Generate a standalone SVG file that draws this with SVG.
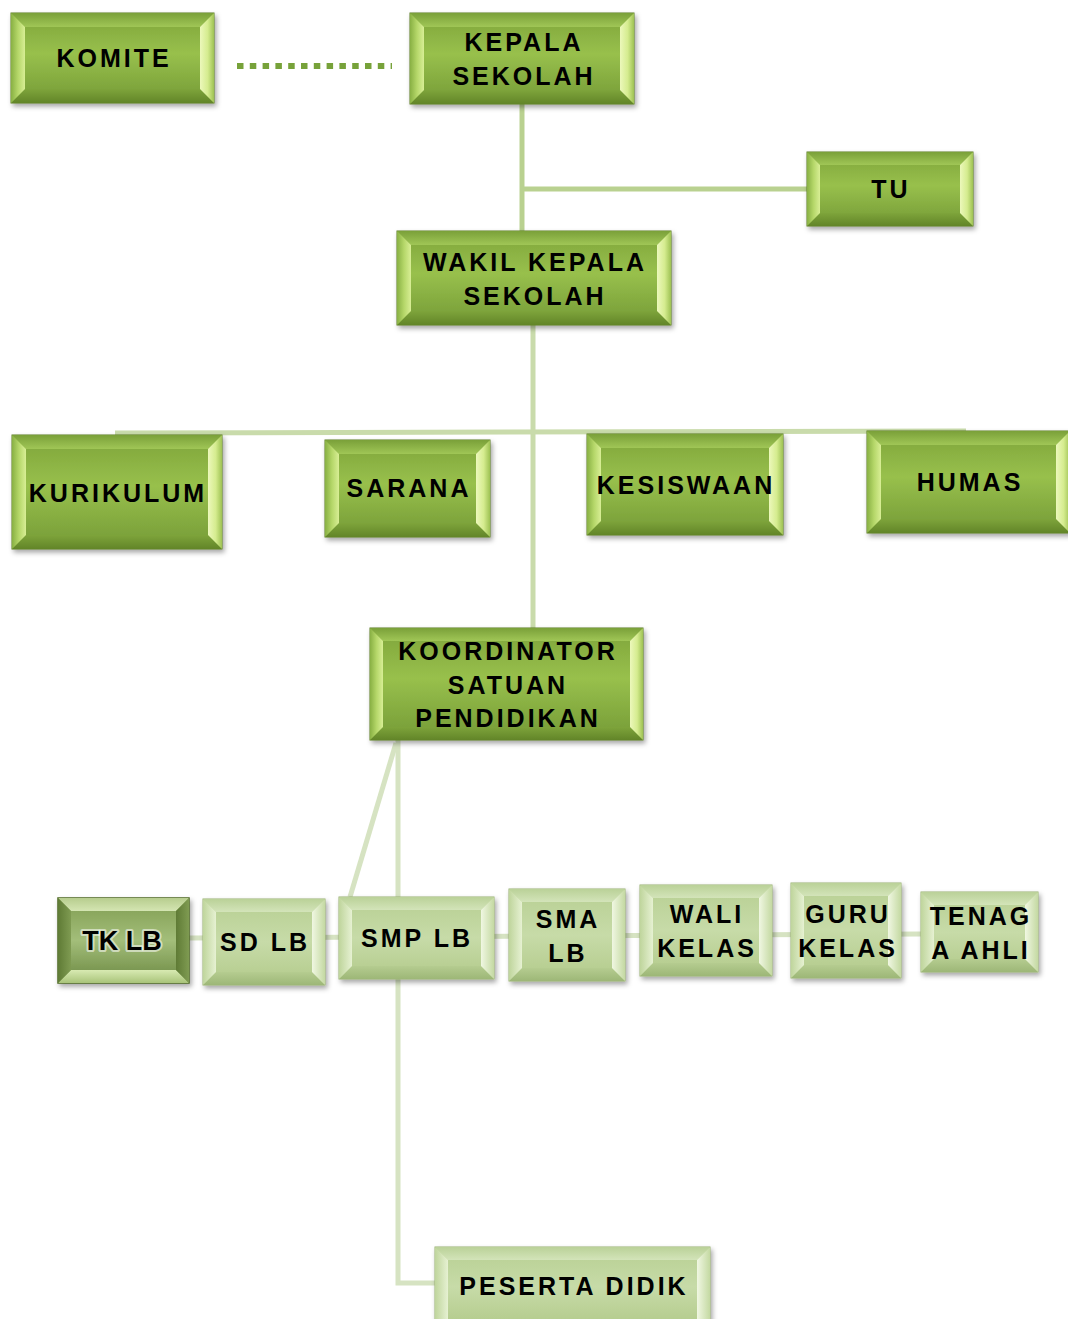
<svg xmlns="http://www.w3.org/2000/svg" width="1068" height="1319" viewBox="0 0 1068 1319">
<defs>
<filter id="sh" x="-10%" y="-10%" width="125%" height="135%"><feDropShadow dx="2" dy="3" stdDeviation="2.5" flood-color="#000" flood-opacity="0.35"/></filter>
<linearGradient id="gM" x1="0" y1="0" x2="0" y2="1"><stop offset="0" stop-color="#7ea43a"/><stop offset="0.45" stop-color="#98c04c"/><stop offset="1" stop-color="#749a36"/></linearGradient>
<linearGradient id="gL" x1="0" y1="0" x2="1" y2="0"><stop offset="0" stop-color="#88b043"/><stop offset="0.5" stop-color="#b5d769"/><stop offset="1" stop-color="#d8ee95"/></linearGradient>
<linearGradient id="gR" x1="1" y1="0" x2="0" y2="0"><stop offset="0" stop-color="#9ec253"/><stop offset="0.45" stop-color="#d5ec8f"/><stop offset="1" stop-color="#ecf8bb"/></linearGradient>
<linearGradient id="gT" x1="0" y1="0" x2="0" y2="1"><stop offset="0" stop-color="#7aa039"/><stop offset="1" stop-color="#a0c656"/></linearGradient>
<linearGradient id="gB" x1="0" y1="1" x2="0" y2="0"><stop offset="0" stop-color="#628528"/><stop offset="1" stop-color="#7ea43b"/></linearGradient>
<linearGradient id="pM" x1="0" y1="0" x2="0" y2="1"><stop offset="0" stop-color="#b7cf92"/><stop offset="0.5" stop-color="#c7dba8"/><stop offset="1" stop-color="#b2ca8a"/></linearGradient>
<linearGradient id="pL" x1="0" y1="0" x2="1" y2="0"><stop offset="0" stop-color="#bfd59c"/><stop offset="1" stop-color="#e6f1d2"/></linearGradient>
<linearGradient id="pR" x1="1" y1="0" x2="0" y2="0"><stop offset="0" stop-color="#c4d9a2"/><stop offset="1" stop-color="#f0f7e2"/></linearGradient>
<linearGradient id="pT" x1="0" y1="0" x2="0" y2="1"><stop offset="0" stop-color="#bad198"/><stop offset="1" stop-color="#d3e4b9"/></linearGradient>
<linearGradient id="pB" x1="0" y1="1" x2="0" y2="0"><stop offset="0" stop-color="#9db777"/><stop offset="1" stop-color="#b5cc90"/></linearGradient>
<linearGradient id="kM" x1="0" y1="0" x2="0" y2="1"><stop offset="0" stop-color="#7f9c50"/><stop offset="0.5" stop-color="#a3be7a"/><stop offset="1" stop-color="#6a8740"/></linearGradient>
<linearGradient id="kT" x1="0" y1="0" x2="0" y2="1"><stop offset="0" stop-color="#b7cd8e"/><stop offset="1" stop-color="#d4e5b2"/></linearGradient>
<linearGradient id="kB" x1="0" y1="1" x2="0" y2="0"><stop offset="0" stop-color="#a9c47a"/><stop offset="1" stop-color="#d8eab2"/></linearGradient>
<linearGradient id="kS" x1="0" y1="0" x2="1" y2="0"><stop offset="0" stop-color="#5f7b35"/><stop offset="1" stop-color="#7f9b52"/></linearGradient>
</defs>
<style>
.m{fill:url(#gM);stroke:#5b7b27;stroke-width:1}
.l{fill:url(#gL)}.r{fill:url(#gR)}.t{fill:url(#gT)}.b{fill:url(#gB)}
.pm{fill:url(#pM);stroke:#97af72;stroke-width:1}
.pl{fill:url(#pL)}.pr{fill:url(#pR)}.pt{fill:url(#pT)}.pb{fill:url(#pB)}
.km{fill:url(#kM);stroke:#4d6824;stroke-width:1.5}
.kt{fill:url(#kT)}.kb{fill:url(#kB)}.ks{fill:url(#kS)}
text{font-family:"Liberation Sans",Arial,sans-serif;font-weight:bold;font-size:25px;letter-spacing:3px;fill:#000;text-anchor:middle}
.glow{letter-spacing:0px;font-size:27px;stroke:#ffffff;stroke-width:4;stroke-opacity:0.55;paint-order:stroke;stroke-linejoin:round}
.c1{stroke:#b9d190;stroke-width:5;fill:none}
.c2{stroke:#c9dbab;stroke-width:5;fill:none}
.c3{stroke:#d6e3c2;stroke-width:5;fill:none}
</style>
<g id="connectors">
<line x1="237" y1="66" x2="392" y2="66" stroke="#77a23a" stroke-width="6" stroke-dasharray="6.5 6.3"/>
<line class="c1" x1="522" y1="104" x2="522" y2="232"/>
<line class="c1" x1="522" y1="189" x2="808" y2="189"/>
<line class="c2" x1="533" y1="325" x2="533" y2="628"/>
<line class="c2" x1="115" y1="433" x2="966" y2="431"/>
<line class="c3" x1="189" y1="938" x2="921" y2="934"/>
<line class="c3" x1="396" y1="743" x2="350" y2="897"/>
<polyline class="c3" points="398,740 398,1283 437,1283"/>
</g>
<g id="komite">
<rect class="m" x="11" y="13" width="203" height="90" filter="url(#sh)"/>
<polygon class="t" points="11,13 214,13 200,27 25,27"/><polygon class="b" points="11,103 214,103 200,89 25,89"/>
<polygon class="l" points="11,13 25,27 25,89 11,103"/><polygon class="r" points="214,13 200,27 200,89 214,103"/>
<text x="114" y="67">KOMITE</text>
</g>
<g id="kepala-sekolah">
<rect class="m" x="410" y="13" width="224" height="91" filter="url(#sh)"/>
<polygon class="t" points="410,13 634,13 620,27 424,27"/><polygon class="b" points="410,104 634,104 620,90 424,90"/>
<polygon class="l" points="410,13 424,27 424,90 410,104"/><polygon class="r" points="634,13 620,27 620,90 634,104"/>
<text x="524" y="51">KEPALA</text><text x="524" y="85">SEKOLAH</text>
</g>
<g id="tu">
<rect class="m" x="807" y="152" width="166" height="74" filter="url(#sh)"/>
<polygon class="t" points="807,152 973,152 960,165 820,165"/><polygon class="b" points="807,226 973,226 960,213 820,213"/>
<polygon class="l" points="807,152 820,165 820,213 807,226"/><polygon class="r" points="973,152 960,165 960,213 973,226"/>
<text x="891" y="198">TU</text>
</g>
<g id="wakil-kepala-sekolah">
<rect class="m" x="397" y="231" width="274" height="94" filter="url(#sh)"/>
<polygon class="t" points="397,231 671,231 657,245 411,245"/><polygon class="b" points="397,325 671,325 657,311 411,311"/>
<polygon class="l" points="397,231 411,245 411,311 397,325"/><polygon class="r" points="671,231 657,245 657,311 671,325"/>
<text x="535" y="271">WAKIL KEPALA</text><text x="535" y="305">SEKOLAH</text>
</g>
<g id="kurikulum">
<rect class="m" x="12" y="435" width="210" height="114" filter="url(#sh)"/>
<polygon class="t" points="12,435 222,435 208,449 26,449"/><polygon class="b" points="12,549 222,549 208,535 26,535"/>
<polygon class="l" points="12,435 26,449 26,535 12,549"/><polygon class="r" points="222,435 208,449 208,535 222,549"/>
<text x="118" y="502">KURIKULUM</text>
</g>
<g id="sarana">
<rect class="m" x="325" y="440" width="165" height="97" filter="url(#sh)"/>
<polygon class="t" points="325,440 490,440 476,454 339,454"/><polygon class="b" points="325,537 490,537 476,523 339,523"/>
<polygon class="l" points="325,440 339,454 339,523 325,537"/><polygon class="r" points="490,440 476,454 476,523 490,537"/>
<text x="409" y="497">SARANA</text>
</g>
<g id="kesiswaan">
<rect class="m" x="587" y="434" width="196" height="101" filter="url(#sh)"/>
<polygon class="t" points="587,434 783,434 769,448 601,448"/><polygon class="b" points="587,535 783,535 769,521 601,521"/>
<polygon class="l" points="587,434 601,448 601,521 587,535"/><polygon class="r" points="783,434 769,448 769,521 783,535"/>
<text x="686" y="494">KESISWAAN</text>
</g>
<g id="humas">
<rect class="m" x="867" y="431" width="203" height="102" filter="url(#sh)"/>
<polygon class="t" points="867,431 1070,431 1056,445 881,445"/><polygon class="b" points="867,533 1070,533 1056,519 881,519"/>
<polygon class="l" points="867,431 881,445 881,519 867,533"/><polygon class="r" points="1070,431 1056,445 1056,519 1070,533"/>
<text x="970" y="491">HUMAS</text>
</g>
<g id="koordinator-satuan-pendidikan">
<rect class="m" x="370" y="628" width="273" height="112" filter="url(#sh)"/>
<polygon class="t" points="370,628 643,628 630,641 383,641"/><polygon class="b" points="370,740 643,740 630,727 383,727"/>
<polygon class="l" points="370,628 383,641 383,727 370,740"/><polygon class="r" points="643,628 630,641 630,727 643,740"/>
<text x="508" y="660">KOORDINATOR</text><text x="508" y="694">SATUAN</text><text x="508" y="727">PENDIDIKAN</text>
</g>
<g id="tk-lb">
<rect class="km" x="58" y="898" width="131" height="85" filter="url(#sh)"/>
<polygon class="kt" points="58,898 189,898 176,911 71,911"/><polygon class="kb" points="58,983 189,983 176,970 71,970"/>
<polygon class="ks" points="58,898 71,911 71,970 58,983"/><polygon class="ks" points="189,898 176,911 176,970 189,983"/>
<text class="glow" x="122" y="950">TK LB</text>
</g>
<g id="sd-lb">
<rect class="pm" x="203" y="899" width="122" height="86" filter="url(#sh)"/>
<polygon class="pt" points="203,899 325,899 312,912 216,912"/><polygon class="pb" points="203,985 325,985 312,972 216,972"/>
<polygon class="pl" points="203,899 216,912 216,972 203,985"/><polygon class="pr" points="325,899 312,912 312,972 325,985"/>
<text x="265" y="951">SD LB</text>
</g>
<g id="smp-lb">
<rect class="pm" x="339" y="897" width="155" height="82" filter="url(#sh)"/>
<polygon class="pt" points="339,897 494,897 481,910 352,910"/><polygon class="pb" points="339,979 494,979 481,966 352,966"/>
<polygon class="pl" points="339,897 352,910 352,966 339,979"/><polygon class="pr" points="494,897 481,910 481,966 494,979"/>
<text x="417" y="947">SMP LB</text>
</g>
<g id="sma-lb">
<rect class="pm" x="509" y="889" width="116" height="92" filter="url(#sh)"/>
<polygon class="pt" points="509,889 625,889 612,902 522,902"/><polygon class="pb" points="509,981 625,981 612,968 522,968"/>
<polygon class="pl" points="509,889 522,902 522,968 509,981"/><polygon class="pr" points="625,889 612,902 612,968 625,981"/>
<text x="568" y="928">SMA</text><text x="568" y="962">LB</text>
</g>
<g id="wali-kelas">
<rect class="pm" x="640" y="885" width="132" height="91" filter="url(#sh)"/>
<polygon class="pt" points="640,885 772,885 759,898 653,898"/><polygon class="pb" points="640,976 772,976 759,963 653,963"/>
<polygon class="pl" points="640,885 653,898 653,963 640,976"/><polygon class="pr" points="772,885 759,898 759,963 772,976"/>
<text x="707" y="923">WALI</text><text x="707" y="957">KELAS</text>
</g>
<g id="guru-kelas">
<rect class="pm" x="791" y="883" width="110" height="95" filter="url(#sh)"/>
<polygon class="pt" points="791,883 901,883 888,896 804,896"/><polygon class="pb" points="791,978 901,978 888,965 804,965"/>
<polygon class="pl" points="791,883 804,896 804,965 791,978"/><polygon class="pr" points="901,883 888,896 888,965 901,978"/>
<text x="848" y="923">GURU</text><text x="848" y="957">KELAS</text>
</g>
<g id="tenaga-ahli">
<rect class="pm" x="921" y="892" width="117" height="80" filter="url(#sh)"/>
<polygon class="pt" points="921,892 1038,892 1025,905 934,905"/><polygon class="pb" points="921,972 1038,972 1025,959 934,959"/>
<polygon class="pl" points="921,892 934,905 934,959 921,972"/><polygon class="pr" points="1038,892 1025,905 1025,959 1038,972"/>
<text x="981" y="925">TENAG</text><text x="981" y="959">A AHLI</text>
</g>
<g id="peserta-didik">
<rect class="pm" x="435" y="1247" width="275" height="80" filter="url(#sh)"/>
<polygon class="pt" points="435,1247 710,1247 697,1260 448,1260"/>
<polygon class="pl" points="435,1247 448,1260 448,1327 435,1327"/><polygon class="pr" points="710,1247 697,1260 697,1327 710,1327"/>
<text x="574" y="1295">PESERTA DIDIK</text>
</g>
</svg>
